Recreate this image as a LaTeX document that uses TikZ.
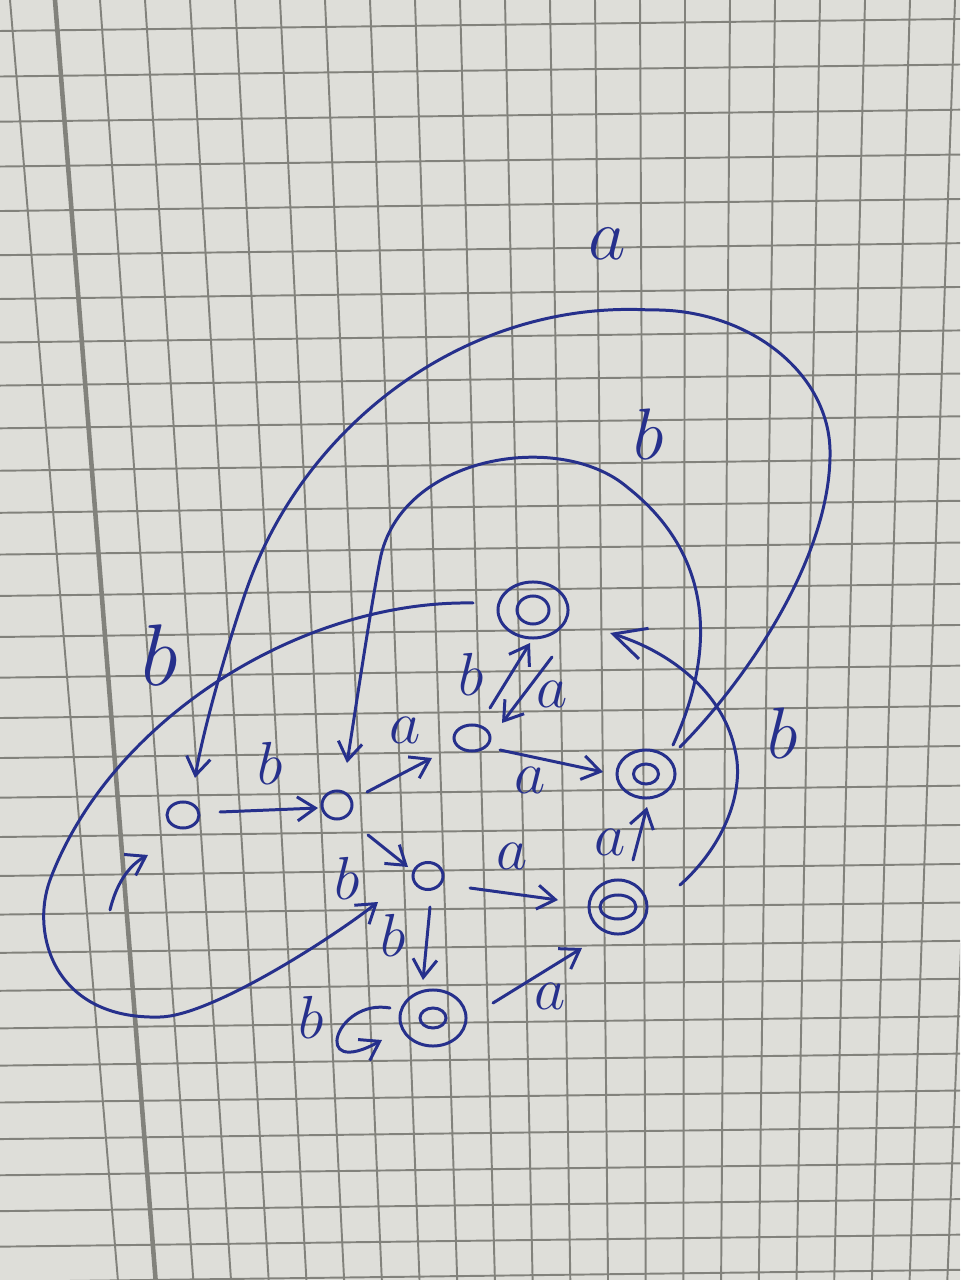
\documentclass[tikz,border=0pt]{standalone}
\usetikzlibrary{arrows.meta,shapes.geometric,calc}
\definecolor{ink}{RGB}{38,48,140}
\definecolor{paper}{RGB}{222,222,217}
\definecolor{gridc}{RGB}{130,130,124}
\begin{document}
\begin{tikzpicture}[x=0.01cm,y=-0.01cm,
  state/.style={draw=ink,ellipse,line width=0.85pt,inner sep=0pt},
  acc/.style n args={4}{state,minimum width=#1cm,minimum height=#2cm,
    label={[state,minimum width=#3cm,minimum height=#4cm]center:}},
  trans/.style={draw=ink,line width=0.85pt,line cap=round,
    -{Straight Barb[length=0.18cm,width=0.24cm]}},
  lbl/.style={text=ink,font=\LARGE,inner sep=0pt},
  sqgrid/.style={draw=gridc,line width=0.55pt}]
\useasboundingbox (0,0) rectangle (960,1280);
\fill[paper] (0,0) rectangle (960,1280);
\begin{scope}
\clip (0,0) rectangle (960,1280);
\foreach \k in {-1,...,22}
  \draw[sqgrid] ({55+45*\k},0) -- ({155.6+37.7*\k},1280);
\draw[sqgrid,line width=1.3pt] (55,0) -- (155.6,1280);
\foreach \j in {0,...,31}
  \draw[sqgrid] (0,{31+45.7*\j-0.1726*\j*\j}) -- (960,{19+45.7*\j-0.1726*\j*\j});
\end{scope}

\node[state,minimum width=0.32cm,minimum height=0.26cm] (q0) at (183,815) {};
\node[state,minimum width=0.30cm,minimum height=0.28cm] (q1) at (337,805) {};
\node[state,minimum width=0.36cm,minimum height=0.26cm] (q2) at (472,738) {};
\node[acc={0.70}{0.56}{0.32}{0.28}] (q3) at (533,610) {};
\node[acc={0.58}{0.48}{0.25}{0.20}] (q4) at (646,774) {};
\node[state,minimum width=0.30cm,minimum height=0.27cm] (q5) at (428,876) {};
\node[acc={0.58}{0.54}{0.36}{0.24}] (q6) at (618,907) {};
\node[acc={0.66}{0.56}{0.26}{0.20}] (q7) at (433,1018) {};

\coordinate (init) at (110,910);
\draw[trans] (init) .. controls (116,885) and (128,866) .. ($(q0)+(-35,40)$);
\draw[trans] ($(q0)+(37,-3)$) -- ($(q1)+(-19,3)$);
\draw[trans] ($(q1)+(30,-13)$) -- ($(q2)+(-40,20)$);
\draw[trans] ($(q2)+(28,12)$) -- ($(q4)+(-43,-2)$);
\draw[trans] ($(q2)+(18,-30)$) -- ($(q3)+(-3,33)$);
\draw[trans] ($(q3)+(19,47)$) -- ($(q2)+(30,-15)$);
\draw[trans] ($(q1)+(31,30)$) -- ($(q5)+(-20,-9)$);
\draw[trans] ($(q5)+(42,12)$) -- ($(q6)+(-60,-7)$);
\draw[trans] ($(q5)+(2,31)$) -- ($(q7)+(-10,-38)$);
\draw[trans] ($(q7)+(60,-15)$) -- ($(q6)+(-36,41)$);
\draw[trans] ($(q6)+(15,-47)$) -- ($(q4)+(1,33)$);
\draw[trans] ($(q7)+(-43,-10)$) .. controls ($(q7)+(-98,-20)$) and ($(q7)+(-123,62)$) .. ($(q7)+(-51,22)$);
\draw[trans] ($(q3)+(-60,-7)$) .. controls (300,600) and (110,720) .. (50,880)
  .. controls (30,935) and (55,1020) .. (160,1017)
  .. controls (210,1016) and (328,941) .. ($(q5)+(-50,26)$);
\draw[trans] ($(q4)+(27,-29)$) .. controls (712,660) and (720,560) .. (627,487)
  .. controls (560,430) and (400,455) .. (380,560)
  .. controls (370,612) and (357,700) .. ($(q1)+(10,-42)$);
\draw[trans] ($(q4)+(34,-27)$) .. controls (740,687) and (832,560) .. (830,450)
  .. controls (828,370) and (745,308) .. (650,310)
  .. controls (470,300) and (310,420) .. (250,580)
  .. controls (235,620) and (205,720) .. ($(q0)+(12,-37)$);
\draw[trans,-{Straight Barb[length=0.32cm,width=0.32cm]}] ($(q6)+(62,-22)$)
  .. controls (725,845) and (745,790) .. (735,750)
  .. controls (725,700) and (680,655) .. ($(q3)+(77,23)$);

\node[lbl] (lq0q1) at (270,763) {$b$};
\node[lbl] (lq1q2) at (405,730) {$a$};
\node[lbl] (lq2q4) at (530,780) {$a$};
\node[lbl] (lq2q3) at (471,674) {$b$};
\node[lbl] (lq3q2) at (552,694) {$a$};
\node[lbl] (lq1q5) at (347,878) {$b$};
\node[lbl] (lq5q7) at (393,935) {$b$};
\node[lbl] (lq5q6) at (512,856) {$a$};
\node[lbl] (lq7q6) at (550,996) {$a$};
\node[lbl] (lq6q4) at (610,842) {$a$};
\node[lbl] (lq7q7) at (311,1017) {$b$};
\node[lbl,font=\Huge] (lq3q5) at (160,655) {$b$};
\node[lbl,font=\huge] (lq4q1) at (649,434) {$b$};
\node[lbl,font=\huge] (lq4q0) at (607,244) {$a$};
\node[lbl,font=\huge] (lq6q3) at (783,733) {$b$};
\end{tikzpicture}
\end{document}
